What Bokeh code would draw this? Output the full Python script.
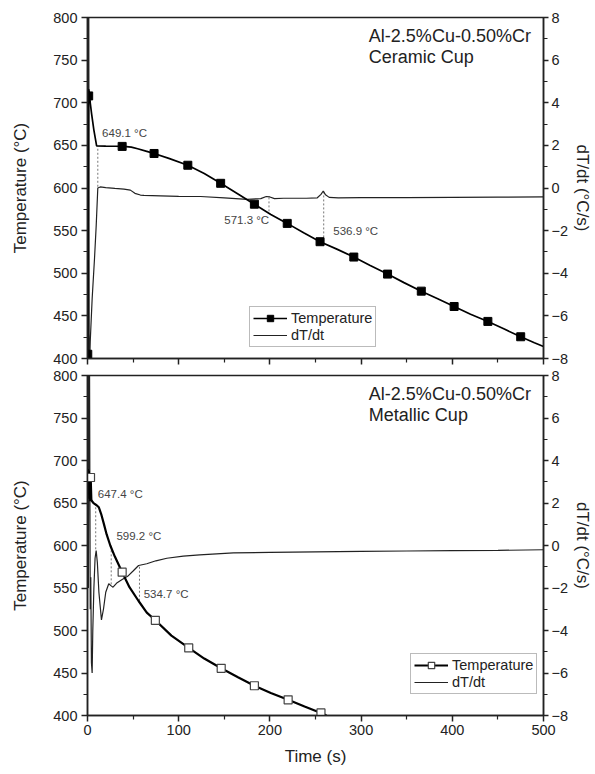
from bokeh.plotting import figure
from bokeh.models import (Range1d, LinearAxis, FixedTicker, Legend, LegendItem,
                          Label, ColumnDataSource)
from bokeh.layouts import column
from bokeh.embed import file_html
from bokeh.resources import INLINE

FONT = "Liberation Sans"

# ---------------- data: ceramic cup (top) ----------------
cer_t = [0.3, 1.2, 2.0, 3.0, 4.5, 7.0, 10.0, 20, 30, 40, 48, 55, 65, 73, 90, 110, 128,
         146, 165, 183, 201, 219, 237, 255, 274, 292, 310, 329, 347, 366, 384, 402,
         420, 439, 457, 475, 490, 500]
cer_T = [405, 716, 712, 700, 687, 668, 649.3, 649.1, 649.0, 648.8, 648.0, 646.0, 643.0,
         640.5, 634.5, 626.7, 617.0, 605.5, 593.0, 581.0, 569.0, 558.5, 547.5, 537.0,
         528.0, 519.0, 509.0, 499.0, 489.0, 479.0, 470.0, 461.0, 452.0, 443.5, 434.5,
         425.5, 418.5, 414.0]
cer_mark_t = [0.3, 1.3, 38, 73, 110, 146, 183, 219, 255, 292, 329, 366, 402, 439, 475]
cer_mark_T = [405, 708, 648.8, 640.5, 626.7, 605.5, 581, 558.5, 537, 519, 499, 479, 461,
              443.5, 425.5]
cer_dt_t = [0, 0.4, 0.9, 1.4, 1.9, 3.0, 5.1, 7.7, 9.5, 11.3, 14, 20, 30, 40, 47, 52, 58,
            62, 80, 100, 124, 150, 175, 190, 196, 200, 205, 215, 240, 252, 256, 258.5,
            261, 265, 275, 300, 350, 400, 450, 500]
cer_dt = [-9, -8, 9, 9, -9, -7.2, -5.2, -3.3, -1.8, 0.0, 0.05, 0.02, -0.02, -0.05, -0.1,
          -0.25, -0.33, -0.35, -0.37, -0.39, -0.4, -0.46, -0.53, -0.5, -0.4, -0.42, -0.5,
          -0.48, -0.48, -0.46, -0.3, -0.14, -0.32, -0.44, -0.46, -0.45, -0.45, -0.44,
          -0.43, -0.42]
cer_guide_t = [11.3, 199, 259]
cer_guide_top = [646, 589, 596]
cer_guide_bot = [601, 571, 537]
cer_labels = ["649.1 °C", "571.3 °C", "536.9 °C"]

# ---------------- data: metallic cup (bottom) ----------------
met_t = [0.5, 1.0, 1.5, 2.0, 2.5, 3.0, 3.5, 4.2, 5.0, 7.0, 10.0, 12.4, 15, 17.8, 21, 25,
         30, 38, 46, 56, 65, 74.4, 92, 111, 128, 146.6, 165, 183, 201, 220, 238, 256, 262]
met_T = [690, 660, 688, 655, 684, 652, 680, 654, 652, 649.5, 647.4, 645, 637, 626, 613,
         600, 587, 568.6, 551, 534.7, 521, 512, 494, 479.5, 467, 455.5, 445, 435, 426.5,
         418.5, 410.5, 403, 400]
met_mark_t = [3.3, 38, 74.4, 111, 146.6, 183, 220, 256]
met_mark_T = [680, 568.6, 512, 479.5, 455.5, 435, 418.5, 403]
met_dt_t = [0, 0.5, 1.0, 1.6, 2.2, 3.0, 3.6, 4.3, 5.1, 5.8, 7.0, 8.3, 9.5, 10.8, 12.5,
            15.3, 17.5, 20, 23.3, 26, 28, 32.5, 38, 44, 50, 56, 65, 75, 87, 105, 123,
            160, 200, 250, 300, 350, 400, 450, 500]
met_dt = [9, 9, -2, 9, 9, -3, -1.5, -5.5, -6.0, -4.0, -2.0, -0.6, -0.24, -0.8, -2.2,
          -3.5, -3.0, -2.2, -1.8, -1.9, -1.96, -1.75, -1.6, -1.45, -1.2, -0.94, -0.86,
          -0.72, -0.6, -0.5, -0.44, -0.35, -0.32, -0.3, -0.28, -0.26, -0.24, -0.23, -0.2]
met_guide_t = [9, 26, 57]
met_guide_top = [645, 599, 575]
met_guide_bot = [594, 553, 533]
met_labels = ["647.4 °C", "599.2 °C", "534.7 °C"]

x_major = [0, 100, 200, 300, 400, 500]
x_minor = [50, 150, 250, 350, 450]
T_major = [400, 450, 500, 550, 600, 650, 700, 750, 800]
T_minor = [425, 475, 525, 575, 625, 675, 725, 775]
d_major = [-8, -6, -4, -2, 0, 2, 4, 6, 8]
d_minor = [-7, -5, -3, -1, 1, 3, 5, 7]

INK = "#222222"


def style_axis(ax, tick_font="14.5px"):
    ax.axis_line_color = INK
    ax.axis_line_width = 1.5
    ax.major_tick_line_color = INK
    ax.major_tick_line_width = 1.5
    ax.minor_tick_line_color = INK
    ax.minor_tick_line_width = 1.2
    ax.major_tick_in = 0
    ax.major_tick_out = 6
    ax.minor_tick_in = 0
    ax.minor_tick_out = 4
    ax.major_label_text_font = FONT
    ax.major_label_text_font_size = tick_font
    ax.major_label_text_color = INK
    ax.axis_label_text_font = FONT
    ax.axis_label_text_font_size = "17px"
    ax.axis_label_text_font_style = "normal"
    ax.axis_label_text_color = INK


def make_panel(height, border_top, border_bottom, t, T, mt, mT, dtt, dtv, gt, gtop, gbot,
               labels, label_pos, title2, legend_loc, open_marker, temp_width,
               show_x_labels):
    p = figure(width=595, height=height, x_range=Range1d(0, 500),
               y_range=Range1d(400, 800), output_backend="svg",
               toolbar_location=None, min_border_left=87, min_border_right=51,
               min_border_top=border_top, min_border_bottom=border_bottom)
    p.xgrid.visible = False
    p.ygrid.visible = False
    p.outline_line_color = INK
    p.outline_line_width = 1.5
    p.background_fill_color = "white"
    p.border_fill_color = "white"
    p.extra_y_ranges = {"d": Range1d(-8, 8)}

    p.xaxis.ticker = FixedTicker(ticks=x_major, minor_ticks=x_minor)
    p.yaxis.ticker = FixedTicker(ticks=T_major, minor_ticks=T_minor)
    style_axis(p.xaxis[0])
    style_axis(p.yaxis[0])
    p.yaxis.axis_label = "Temperature (°C)"
    p.yaxis.major_label_standoff = 4
    p.yaxis.axis_label_standoff = 20
    if show_x_labels:
        p.xaxis.axis_label = "Time (s)"
        p.xaxis.major_label_standoff = 3
        p.xaxis.axis_label_standoff = 9
    else:
        p.xaxis.major_label_text_font_size = "0px"
        p.xaxis.major_label_text_color = None
        p.xaxis.major_label_standoff = 0

    rax = LinearAxis(y_range_name="d",
                     ticker=FixedTicker(ticks=d_major, minor_ticks=d_minor),
                     axis_label="dT/dt (°C/s)")
    style_axis(rax)
    rax.major_tick_out = 5
    rax.major_label_standoff = 3
    rax.axis_label_standoff = 2
    p.add_layout(rax, "right")

    # guides
    gsrc = ColumnDataSource(dict(x=gt, y0=gtop, y1=gbot))
    p.segment(x0="x", y0="y0", x1="x", y1="y1", source=gsrc, line_color="#777777",
              line_width=1, line_dash="2 2")

    dline = p.line(dtt, dtv, y_range_name="d", line_color=INK, line_width=1.2)
    tline = p.line(t, T, line_color="black", line_width=temp_width)
    if open_marker:
        tmark = p.scatter(mt, mT, marker="square", size=8, fill_color="white",
                          line_color="#444444", line_width=1.2)
    else:
        tmark = p.scatter(mt, mT, marker="square", size=8, fill_color="black",
                          line_color="black")

    for txt, (lx, ly) in zip(labels, label_pos):
        p.add_layout(Label(x=lx, y=ly, text=txt, text_font=FONT,
                           text_font_size="11.5px", text_color="#444444"))

    p.add_layout(Label(x=308.5, y=767, text="Al-2.5%Cu-0.50%Cr", text_font=FONT,
                       text_font_size="18px", text_color=INK))
    p.add_layout(Label(x=308.5, y=742, text=title2, text_font=FONT,
                       text_font_size="18px", text_color=INK))

    legend = Legend(items=[LegendItem(label="Temperature", renderers=[tline, tmark]),
                           LegendItem(label="dT/dt", renderers=[dline])],
                    location=legend_loc)
    legend.label_text_font = FONT
    legend.label_text_font_size = "14.5px"
    legend.label_text_color = INK
    legend.border_line_color = "#777777"
    legend.border_line_width = 1
    legend.background_fill_color = "white"
    legend.background_fill_alpha = 1
    legend.glyph_width = 34
    legend.glyph_height = 16
    legend.label_height = 16
    legend.label_standoff = 4
    legend.spacing = 1
    legend.padding = 3
    legend.margin = 0
    p.add_layout(legend)
    return p


top = make_panel(366, 17, 8, cer_t, cer_T, cer_mark_t, cer_mark_T, cer_dt_t, cer_dt,
                 cer_guide_t, cer_guide_top, cer_guide_bot, cer_labels,
                 [(16, 657), (150, 555), (269.5, 542)], "Ceramic Cup", (162, 11),
                 False, 1.7, False)
bottom = make_panel(408, 9, 59, met_t, met_T, met_mark_t, met_mark_T, met_dt_t, met_dt,
                    met_guide_t, met_guide_top, met_guide_bot, met_labels,
                    [(11.3, 653), (31.7, 604), (61.6, 535.3)], "Metallic Cup", (323, 21),
                    True, 2.2, True)

layout = column(top, bottom, spacing=0)
open("out.html", "w").write(file_html(layout, INLINE))
